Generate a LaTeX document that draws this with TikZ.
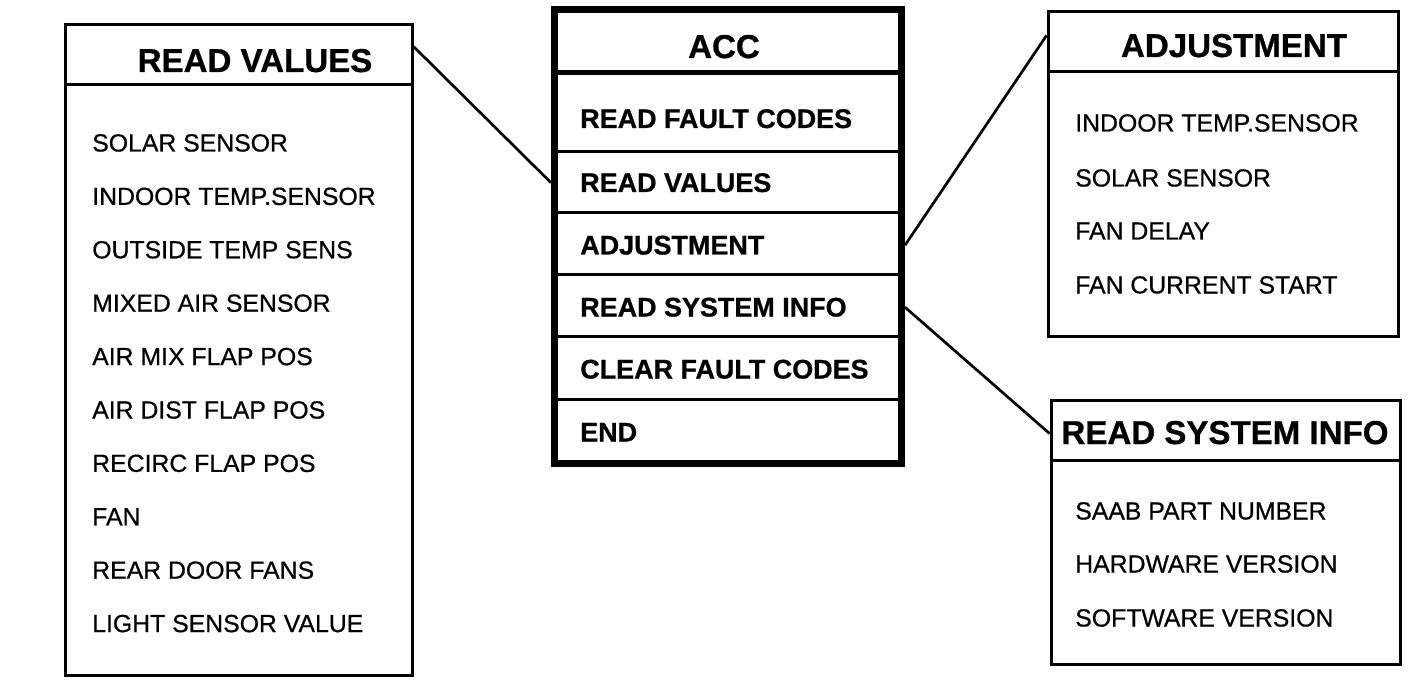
\documentclass[tikz,border=0pt]{standalone}
\usepackage{fontspec}
\setmainfont{Liberation Sans}
\newfontfamily\itemfont{Liberation Sans}[FakeBold=0.6]
\newfontfamily\headfont{Liberation Sans Bold}[FakeBold=0.8]
\usetikzlibrary{positioning}
\tikzset{boxline/.style={draw=black,line width=2.25pt,inner sep=0pt}}
\tikzset{accline/.style={draw=black,line width=5.25pt,inner sep=0pt}}
\tikzset{link/.style={draw=black,line width=2pt}}
\tikzset{head/.style={font=\fontsize{24.8}{28}\headfont,inner sep=0pt,anchor=base}}
\tikzset{menu/.style={font=\fontsize{20.2}{24}\headfont,inner sep=0pt,anchor=base west}}
\tikzset{item/.style={font=\fontsize{18.6}{22}\itemfont,inner sep=0pt,anchor=base west}}

\begin{document}
\begin{tikzpicture}[x=0.75pt,y=-0.75pt]
\useasboundingbox (0,0) rectangle (1408,684);
%
{
\node (rv) [boxline,minimum width=347*0.75pt,minimum height=650*0.75pt] at (238.5,350) {};
\draw[boxline] (65,85) -- (412,85);
\node (rvh) [head] at (255,72) {READ VALUES};
\node (rv1) [item] at (92,151.5) {SOLAR SENSOR};
\node (rv2) [item] at (92,204.9) {INDOOR TEMP.SENSOR};
\node (rv3) [item] at (92,258.3) {OUTSIDE TEMP SENS};
\node (rv4) [item] at (92,311.7) {MIXED AIR SENSOR};
\node (rv5) [item] at (92,365.1) {AIR MIX FLAP POS};
\node (rv6) [item] at (92,418.5) {AIR DIST FLAP POS};
\node (rv7) [item] at (92,471.9) {RECIRC FLAP POS};
\node (rv8) [item] at (92,525.3) {FAN};
\node (rv9) [item] at (92,578.7) {REAR DOOR FANS};
\node (rv10) [item] at (92,632.1) {LIGHT SENSOR VALUE};
}
%
{
\node (acc) [accline,minimum width=347*0.75pt,minimum height=454*0.75pt] at (728,236.5) {};
\draw[accline,line width=3.75pt] (554.5,72.5) -- (901.5,72.5);
\draw[boxline] (554.5,152) -- (901.5,152);
\draw[boxline] (554.5,213) -- (901.5,213);
\draw[boxline] (554.5,274) -- (901.5,274);
\draw[boxline] (554.5,336) -- (901.5,336);
\draw[boxline] (554.5,399) -- (901.5,399);
\node (acch) [head] at (724,58) {ACC};
\node (accrf) [menu] at (580,128) {READ FAULT CODES};
\node (accrv) [menu] at (580,192) {READ VALUES};
\node (accadj) [menu] at (580,254.5) {ADJUSTMENT};
\node (accrsi) [menu] at (580,316.5) {READ SYSTEM INFO};
\node (acccf) [menu] at (580,378.5) {CLEAR FAULT CODES};
\node (accend) [menu] at (580,441.5) {END};
}
%
{
\node (adj) [boxline,minimum width=350*0.75pt,minimum height=324*0.75pt] at (1223,174) {};
\draw[boxline] (1048,72) -- (1398,72);
\node (adjh) [head] at (1234,57) {ADJUSTMENT};
\node (adj1) [item] at (1075,131.5) {INDOOR TEMP.SENSOR};
\node (adj2) [item] at (1075,186.5) {SOLAR SENSOR};
\node (adj3) [item] at (1075,239.5) {FAN DELAY};
\node (adj4) [item] at (1075,293.5) {FAN CURRENT START};
}
%
{
\node (rsi) [boxline,minimum width=349*0.75pt,minimum height=264*0.75pt] at (1225.5,532) {};
\draw[boxline] (1051,460) -- (1400,460);
\node (rsih) [head] at (1225,444) {READ SYSTEM INFO};
\node (rsi1) [item] at (1075,519.5) {SAAB PART NUMBER};
\node (rsi2) [item] at (1075,572.5) {HARDWARE VERSION};
\node (rsi3) [item] at (1075,626.5) {SOFTWARE VERSION};
}
%
{
\path[link] ([yshift=-17.25pt]rv.north east) edge (accrv -| acc.west);
\path[link] (accadj -| acc.east) edge ([yshift=-18.75pt]adj.north west);
\path[link] (accrsi -| acc.east) edge ([yshift=-26.25pt]rsi.north west);
}
\end{tikzpicture}
\end{document}
